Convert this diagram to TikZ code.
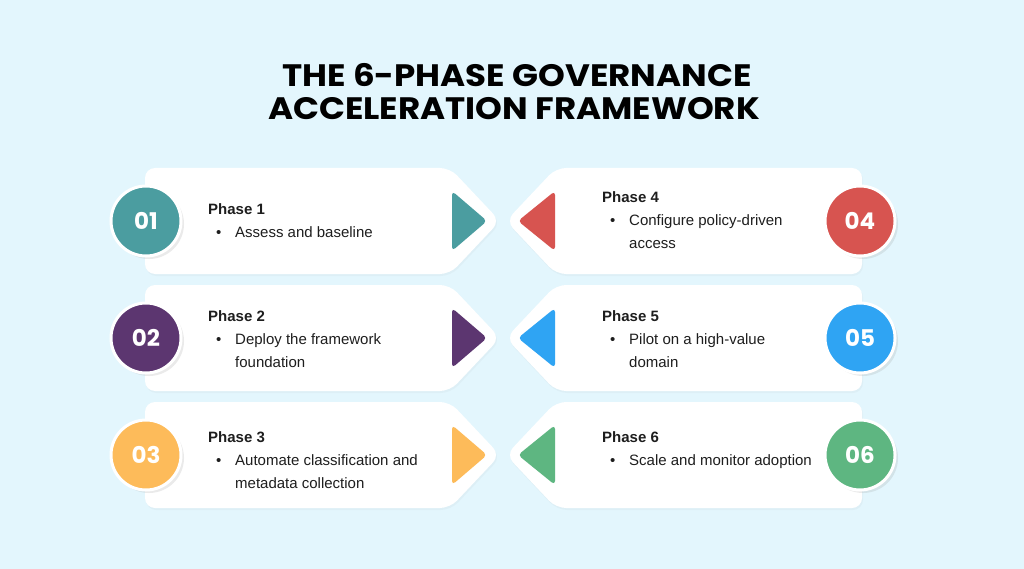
\documentclass[tikz,border=0pt]{standalone}
\usepackage{fontspec}
\setmainfont{Liberation Sans}
\newfontfamily\titlefont{Poppins}
\usepackage{xcolor}
\usepackage{tikz}
\usetikzlibrary{shadows,positioning}
\definecolor{skyback}{HTML}{E3F6FD}
\definecolor{inkdark}{HTML}{1E1E1E}
\definecolor{phteal}{HTML}{4B9DA0}
\definecolor{phplum}{HTML}{5C3670}
\definecolor{phamber}{HTML}{FDBB5A}
\definecolor{phred}{HTML}{D75450}
\definecolor{phblue}{HTML}{2FA4F3}
\definecolor{phgreen}{HTML}{5EB681}
\tikzset{
  cardbox/.style={fill=white, rounded corners=10pt, drop shadow={opacity=0.05, shadow xshift=1pt, shadow yshift=-2pt}},
  numdisc/.style={circle, minimum size=70pt, inner sep=0pt, draw=white, line width=3pt, text=white, font=\titlefont\bfseries\fontsize{23}{23}\selectfont, drop shadow={opacity=0.16, shadow xshift=3pt, shadow yshift=-3pt}},
  pointer/.style={rounded corners=4pt},
  phasetext/.style={anchor=base west, inner sep=0pt, text=inkdark, font=\fontsize{15}{23}\selectfont},
  headline/.style={anchor=base, inner sep=0pt, text=black, font=\titlefont\bfseries\fontsize{31}{33}\selectfont}
}
\newcommand{\phaseone}[2]{\begin{tabular}[t]{@{}p{27pt}@{}l@{}}\multicolumn{2}{@{}l@{}}{\bfseries #1}\\\hspace*{8pt}\textbullet & #2\end{tabular}}
\newcommand{\phasetwo}[3]{\begin{tabular}[t]{@{}p{27pt}@{}l@{}}\multicolumn{2}{@{}l@{}}{\bfseries #1}\\\hspace*{8pt}\textbullet & #2\\ & #3\end{tabular}}
\newcommand{\widetitle}[1]{\scalebox{1.1}[1]{#1}}

\begin{document}
\begin{tikzpicture}[x=1pt, y=-1pt]
  \useasboundingbox (0,0) rectangle (1024,569);
  \fill[skyback] (0,0) rectangle (1024,569);

  % title
  \node[headline] (title1) at (517,87) {\widetitle{THE 6-PHASE GOVERNANCE}};
  \node[headline] (title2) at (514,120) {\widetitle{ACCELERATION FRAMEWORK}};

  % left column
  \foreach \c/\col/\num [count=\i] in {221/phteal/01, 338/phplum/02, 455/phamber/03} {
    \path[cardbox] (145,\c-53) -- (450,\c-53) -- (500,\c) -- (450,\c+53) -- (145,\c+53) -- cycle;
    \fill[pointer, \col] (452,\c-30) -- (487,\c) -- (452,\c+30) -- cycle;
    \node[numdisc, fill=\col] (numL\i) at (146,\c) {\num};
  }

  % right column
  \foreach \c/\col/\num [count=\i] in {221/phred/04, 338/phblue/05, 455/phgreen/06} {
    \path[cardbox] (862,\c-53) -- (556,\c-53) -- (506,\c) -- (556,\c+53) -- (862,\c+53) -- cycle;
    \fill[pointer, \col] (555,\c-30) -- (518,\c) -- (555,\c+30) -- cycle;
    \node[numdisc, fill=\col] (numR\i) at (860,\c) {\num};
  }

  % phase texts
  \node[phasetext] (phase1) at (208,214.5) {\phaseone{Phase 1}{Assess and baseline}};
  \node[phasetext] (phase2) at (208,321.5) {\phasetwo{Phase 2}{Deploy the framework}{foundation}};
  \node[phasetext] (phase3) at (208,442.5) {\phasetwo{Phase 3}{Automate classification and}{metadata collection}};
  \node[phasetext] (phase4) at (602,202.5) {\phasetwo{Phase 4}{Configure policy-driven}{access}};
  \node[phasetext] (phase5) at (602,321.5) {\phasetwo{Phase 5}{Pilot on a high-value}{domain}};
  \node[phasetext] (phase6) at (602,442.5) {\phaseone{Phase 6}{Scale and monitor adoption}};
\end{tikzpicture}
\end{document}
